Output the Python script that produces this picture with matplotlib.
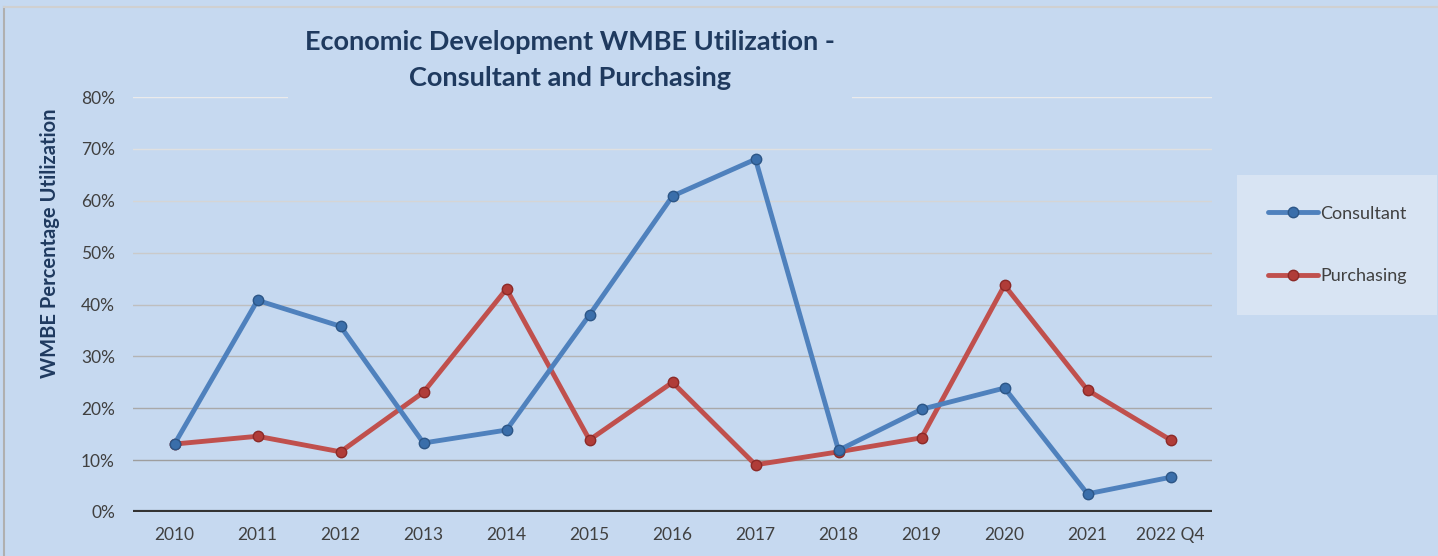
import matplotlib.pyplot as plt
import numpy as np

years = ['2010', '2011', '2012', '2013', '2014', '2015', '2016',
         '2017', '2018', '2019', '2020', '2021', '2022 Q4']
consultant = [13.1, 40.8, 35.8, 13.3, 15.8, 38.0, 60.9, 68.0, 11.9, 19.8, 23.9, 3.5, 6.7]
purchasing = [13.1, 14.6, 11.6, 23.1, 43.0, 13.9, 25.0, 9.1, 11.6, 14.3, 43.7, 23.5, 13.9]
yticks = [0, 10, 20, 30, 40, 50, 60, 70, 80]

plt.rcParams['font.family'] = ['Lato', 'DejaVu Sans']
bg = '#c6d9f0'
txt = '#404040'

fig = plt.figure(figsize=(14.38, 5.56), dpi=100, facecolor=bg)
ax = fig.add_axes([133 / 1438, 1 - 512 / 556, (1212 - 133) / 1438, (512 - 97) / 556])
ax.set_facecolor(bg)

x = np.arange(len(years))

# gridlines, lighter towards the top
for i, t in enumerate(yticks[1:]):
    f = i / (len(yticks) - 2)
    c = (0.62 + 0.3 * f, 0.62 + 0.3 * f, 0.62 + 0.3 * f)
    ax.axhline(t, color=c, lw=1, zorder=1)
ax.axhline(0, color='#333333', lw=3, zorder=2)

ax.plot(x, consultant, color='#4f81bd', lw=3.5, marker='o', ms=7.5,
        mfc='#3a6eaa', mec='#2c5687', mew=1, label='Consultant', zorder=4,
        solid_capstyle='round')
ax.plot(x, purchasing, color='#c0504d', lw=3.5, marker='o', ms=7.5,
        mfc='#b03c38', mec='#8c2a28', mew=1, label='Purchasing', zorder=3,
        solid_capstyle='round')

ax.set_xlim(-0.5, len(years) - 0.5)
ax.set_ylim(0, 80)
ax.set_yticks(yticks)
ax.set_yticklabels([f'{t}%' for t in yticks], fontsize=12.5, color=txt)
ax.set_xticks(x)
ax.set_xticklabels(years, fontsize=12.5, color=txt)
ax.tick_params(length=0, pad=11)
ax.tick_params(axis='y', pad=13)
for s in ax.spines.values():
    s.set_visible(False)

fig.text(50 / 1438, 1 - 243 / 556, 'WMBE Percentage Utilization', rotation=90,
         ha='center', va='center', fontsize=14.5, fontweight='bold', color='#1f3a5f')

fig.text(570 / 1438, 1 - 60 / 556,
         'Economic Development WMBE Utilization -\nConsultant and Purchasing',
         ha='center', va='center', fontsize=19.5, fontweight='bold', color='#1f3a5f',
         linespacing=1.6,
         bbox=dict(facecolor=bg, edgecolor='none', pad=12))

leg = fig.legend(loc='center', bbox_to_anchor=(1337 / 1438, 1 - 245 / 556),
                 fontsize=13, frameon=True, facecolor='#d8e4f3', edgecolor='none',
                 labelspacing=2.6, handlelength=2.8, borderpad=1.7, handletextpad=0.1,
                 fancybox=False, borderaxespad=0)
for t in leg.get_texts():
    t.set_color(txt)
leg.get_frame().set_alpha(1)

# left border of the chart area
fig.add_artist(plt.Line2D([4 / 1438, 4 / 1438], [0, 1 - 7 / 556], color='#b0b0b0', lw=1.5))
fig.add_artist(plt.Line2D([4 / 1438, 1], [1 - 7 / 556, 1 - 7 / 556], color='#d0d0d0', lw=1.5))

fig.savefig('out.png', dpi=100, facecolor=bg)
